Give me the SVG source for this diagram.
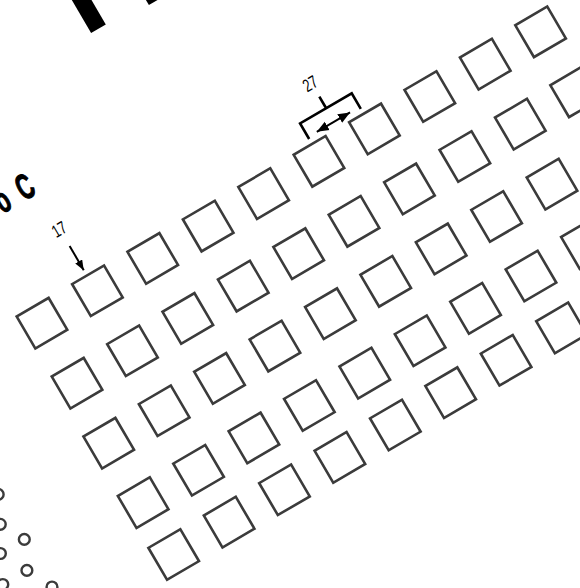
<svg xmlns="http://www.w3.org/2000/svg" width="580" height="588" viewBox="0 0 580 588">
<defs>
<style>
.sq{fill:none;stroke:#3b3b3b;stroke-width:2.6}
.dot{fill:none;stroke:#3b3b3b;stroke-width:2.4}
.blk{fill:#000}
.dim{fill:none;stroke:#000;stroke-width:2.6}
.arr{fill:none;stroke:#000;stroke-width:2}
.lbl{font-family:"Liberation Sans",Arial,sans-serif;font-size:18px;fill:#000;text-anchor:middle}
.ttl{font-family:"Liberation Sans",Arial,sans-serif;font-weight:bold;font-size:36px;fill:#000;stroke:#000;stroke-width:1.2}
</style>
<marker id="ah" viewBox="0 0 10 8" refX="10" refY="4" markerWidth="10" markerHeight="8" markerUnits="userSpaceOnUse" orient="auto-start-reverse"><path d="M0,0L10,4L0,8z" fill="#000"/></marker>
<marker id="ah2" viewBox="0 0 10 8" refX="10" refY="4" markerWidth="12" markerHeight="11" markerUnits="userSpaceOnUse" orient="auto-start-reverse"><path d="M0,0L10,4L0,8z" fill="#000"/></marker>
<rect id="s" width="37" height="37"/>
</defs>
<rect width="580" height="588" fill="#fff"/>

<g id="dots">
<circle class="dot" cx="-1.8" cy="494.4" r="5.4"/>
<circle class="dot" cx="0.3" cy="524.3" r="5.4"/>
<circle class="dot" cx="24.3" cy="539.4" r="5.4"/>
<circle class="dot" cx="0.4" cy="553.5" r="5.4"/>
<circle class="dot" cx="26.9" cy="570.4" r="5.4"/>
<circle class="dot" cx="2.8" cy="584.5" r="5.4"/>
<circle class="dot" cx="52" cy="587" r="5.4"/>
</g>

<g transform="rotate(-30.3)">
<g id="title">
<rect class="blk" x="62" y="-120" width="17" height="194.5"/>
<rect class="blk" x="126" y="0" width="12" height="79.5"/>
<text class="ttl" transform="translate(-80.5,186) scale(0.6,1)"><tspan x="-42">o </tspan><tspan x="0">C</tspan></text>
</g>

<g id="row0" class="sq">
<use href="#s" x="-145.3" y="281.7"/><use href="#s" x="-81.1" y="281.7"/><use href="#s" x="-17.0" y="281.7"/><use href="#s" x="47.2" y="281.7"/><use href="#s" x="111.4" y="281.7"/><use href="#s" x="175.5" y="281.7"/><use href="#s" x="239.7" y="281.7"/><use href="#s" x="303.9" y="281.7"/><use href="#s" x="368.1" y="281.7"/><use href="#s" x="432.2" y="281.7"/>
</g>
<g id="row1" class="sq">
<use href="#s" x="-145.3" y="351.2"/><use href="#s" x="-81.1" y="351.2"/><use href="#s" x="-17.0" y="351.2"/><use href="#s" x="47.2" y="351.2"/><use href="#s" x="111.4" y="351.2"/><use href="#s" x="175.5" y="351.2"/><use href="#s" x="239.7" y="351.2"/><use href="#s" x="303.9" y="351.2"/><use href="#s" x="368.1" y="351.2"/><use href="#s" x="432.2" y="351.2"/>
</g>
<g id="row2" class="sq">
<use href="#s" x="-148.2" y="419"/><use href="#s" x="-84.0" y="419"/><use href="#s" x="-19.9" y="419"/><use href="#s" x="44.3" y="419"/><use href="#s" x="108.5" y="419"/><use href="#s" x="172.6" y="419"/><use href="#s" x="236.8" y="419"/><use href="#s" x="301.0" y="419"/><use href="#s" x="365.2" y="419"/>
</g>
<g id="row3" class="sq">
<use href="#s" x="-148.5" y="487.7"/><use href="#s" x="-84.3" y="487.7"/><use href="#s" x="-20.2" y="487.7"/><use href="#s" x="44.0" y="487.7"/><use href="#s" x="108.2" y="487.7"/><use href="#s" x="172.3" y="487.7"/><use href="#s" x="236.5" y="487.7"/><use href="#s" x="300.7" y="487.7"/><use href="#s" x="364.9" y="487.7"/>
</g>
<g id="row4" class="sq">
<use href="#s" x="-148.3" y="547.9"/><use href="#s" x="-84.1" y="547.9"/><use href="#s" x="-20.0" y="547.9"/><use href="#s" x="44.2" y="547.9"/><use href="#s" x="108.4" y="547.9"/><use href="#s" x="172.5" y="547.9"/><use href="#s" x="236.7" y="547.9"/><use href="#s" x="300.9" y="547.9"/>
</g>

<g id="connectors">
<line class="arr" x1="-64" y1="247.5" x2="-64" y2="275.5" marker-end="url(#ah)"/>
<path class="dim" d="M196.8,276V258H256.6V276M227,258V244.5"/>
<line class="arr" x1="207" y1="273.7" x2="245.5" y2="273.7" stroke-width="2.4" marker-start="url(#ah2)" marker-end="url(#ah2)"/>
</g>
<g id="labels">
<text class="lbl" transform="translate(-64.6,234) scale(0.7,1)">17</text>
<text class="lbl" transform="translate(225.6,235) scale(0.7,1)">27</text>
</g>
</g>
</svg>
